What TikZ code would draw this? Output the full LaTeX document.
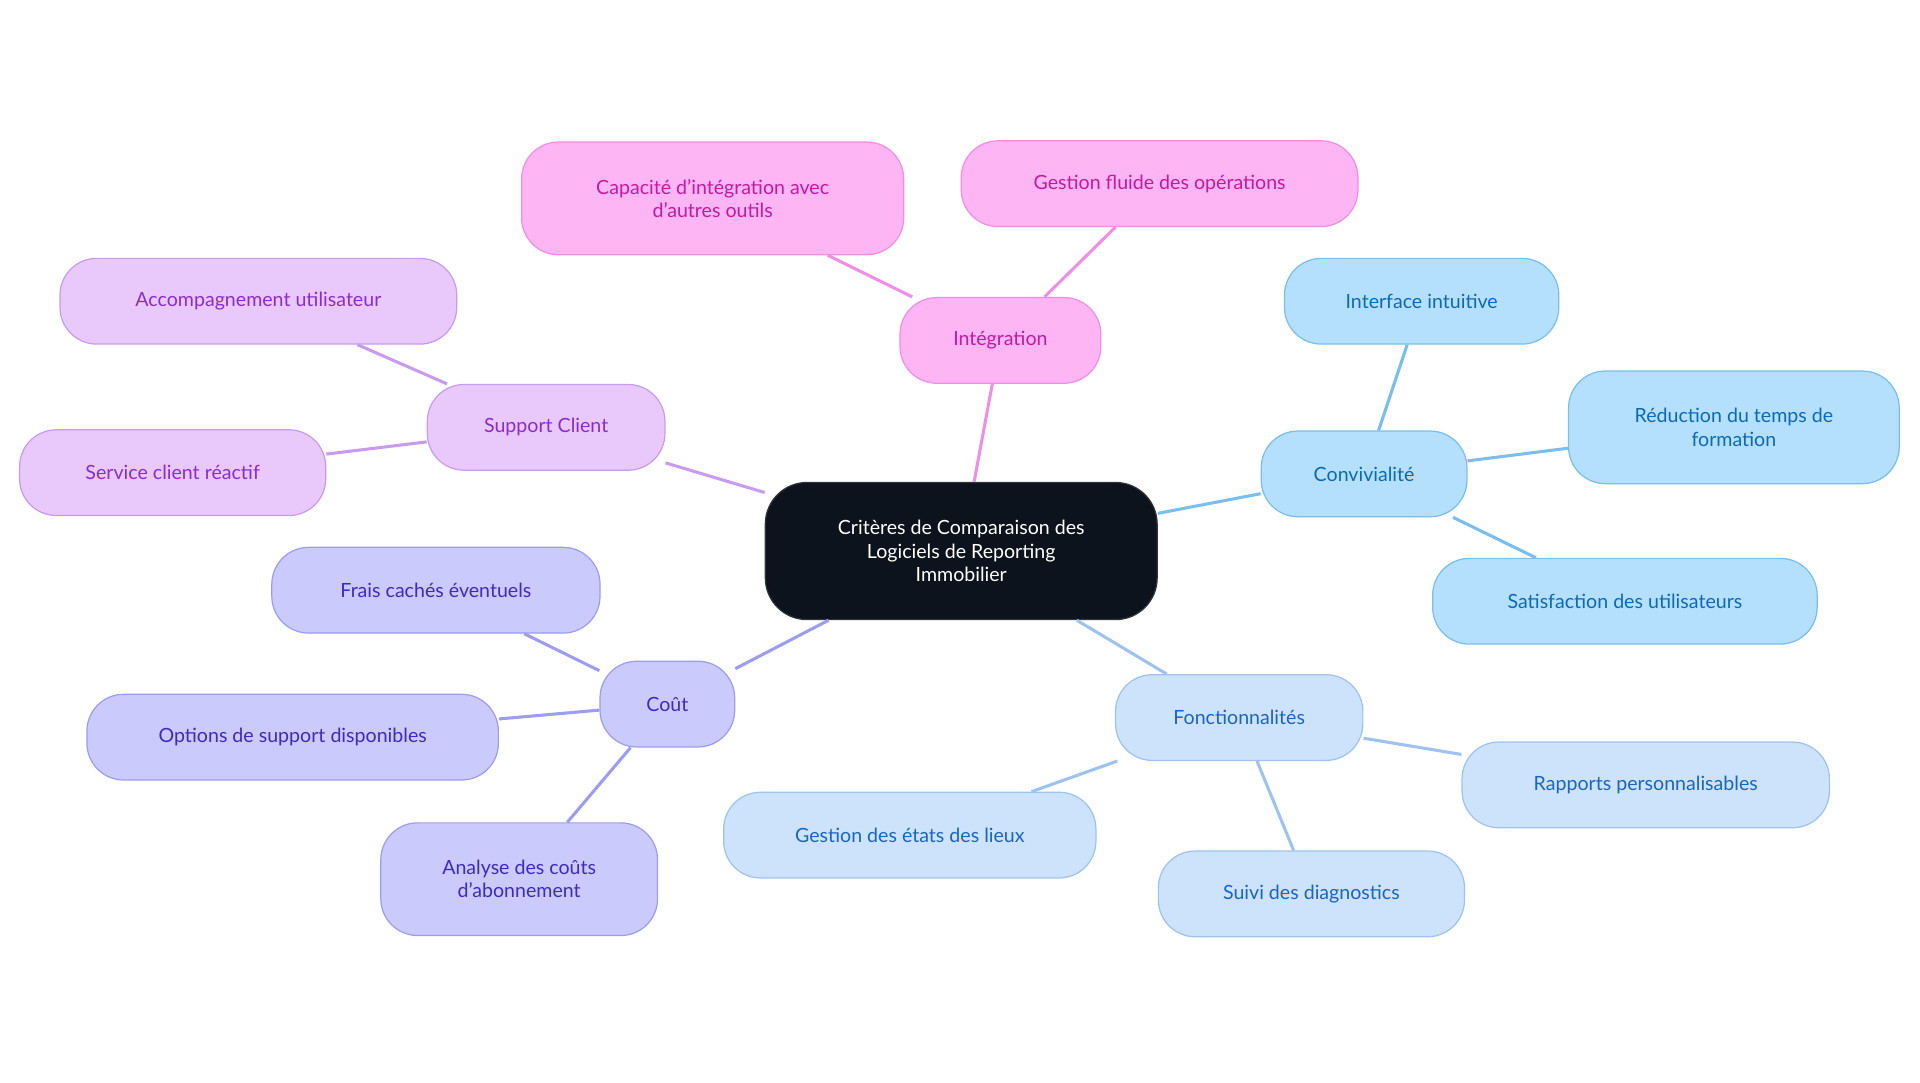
\documentclass[tikz,border=0pt]{standalone}
\usepackage{fontspec}
\setmainfont{Lato}
\usetikzlibrary{positioning}
\definecolor{rootfill}{HTML}{0C131D}
\definecolor{pinkfill}{HTML}{FDB5F4}\definecolor{pinkline}{HTML}{F08DE5}\definecolor{pinktext}{HTML}{C21AA0}
\definecolor{lilafill}{HTML}{E9C9FB}\definecolor{lilaline}{HTML}{C99BF0}\definecolor{lilatext}{HTML}{8B2CD0}
\definecolor{violfill}{HTML}{CACAFD}\definecolor{violline}{HTML}{9D9DF0}\definecolor{violtext}{HTML}{3A2DBF}
\definecolor{skyfill}{HTML}{B5E0FD}\definecolor{skyline}{HTML}{79BEEC}\definecolor{skytext}{HTML}{0B6AB8}
\definecolor{bluefill}{HTML}{CDE2FB}\definecolor{blueline}{HTML}{9DC3EE}\definecolor{bluetext}{HTML}{1A66C0}
\tikzset{%
	box/.style     = {draw, rectangle, rounded corners=30pt, minimum height=70pt, align=center, line width=1pt, font=\fontsize{16}{19}\selectfont},
	root/.style    = {box, fill=rootfill, draw=rootfill!70!gray, text=white, rounded corners=34pt},
	pink/.style    = {box, fill=pinkfill, draw=pinkline, text=pinktext},
	lila/.style    = {box, fill=lilafill, draw=lilaline, text=lilatext},
	viol/.style    = {box, fill=violfill, draw=violline, text=violtext},
	sky/.style     = {box, fill=skyfill, draw=skyline, text=skytext},
	blue/.style    = {box, fill=bluefill, draw=blueline, text=bluetext},
	link/.style    = {line width=2.5pt},
}
\begin{document}
\begin{tikzpicture}[x=1pt,y=-1pt]
	\useasboundingbox (0,0) rectangle (1568,884);
	\node[root,minimum width=320pt,minimum height=112pt] (root) at (785,450) {Critères de Comparaison des\\Logiciels de Reporting\\Immobilier};
	% Intégration
	\node[pink,minimum width=164pt] (integ) at (817,278) {Intégration};
	\node[pink,minimum width=312pt,minimum height=92pt] (capa) at (582,162) {Capacité d'intégration avec\\d'autres outils};
	\node[pink,minimum width=324pt] (fluide) at (947,150) {Gestion fluide des opérations};
	% Support Client
	\node[lila,minimum width=194pt] (supp) at (446,349) {Support Client};
	\node[lila,minimum width=324pt] (accomp) at (211,246) {Accompagnement utilisateur};
	\node[lila,minimum width=250pt] (serv) at (141,386) {Service client réactif};
	% Coût
	\node[viol,minimum width=110pt] (cout) at (545,575) {Coût};
	\node[viol,minimum width=268pt] (frais) at (356,482) {Frais cachés éventuels};
	\node[viol,minimum width=336pt] (opts) at (239,602) {Options de support disponibles};
	\node[viol,minimum width=226pt,minimum height=92pt] (abo) at (424,718) {Analyse des coûts\\d'abonnement};
	% Convivialité
	\node[sky,minimum width=168pt] (conv) at (1114,387) {Convivialité};
	\node[sky,minimum width=224pt] (inter) at (1161,246) {Interface intuitive};
	\node[sky,minimum width=270pt,minimum height=92pt] (reduc) at (1416,349) {Réduction du temps de\\formation};
	\node[sky,minimum width=314pt] (satis) at (1327,491) {Satisfaction des utilisateurs};
	% Fonctionnalités
	\node[blue,minimum width=202pt] (fonc) at (1012,586) {Fonctionnalités};
	\node[blue,minimum width=300pt] (rapp) at (1344,641) {Rapports personnalisables};
	\node[blue,minimum width=304pt] (etats) at (743,682) {Gestion des états des lieux};
	\node[blue,minimum width=250pt] (diag) at (1071,730) {Suivi des diagnostics};

	\draw[link,pinkline] (root) -- (integ);
	\draw[link,pinkline] (integ) -- (capa);
	\draw[link,pinkline] (integ) -- (fluide);
	\draw[link,lilaline] (root) -- (supp);
	\draw[link,lilaline] (supp) -- (accomp);
	\draw[link,lilaline] (supp) -- (serv);
	\draw[link,violline] (root) -- (cout);
	\draw[link,violline] (cout) -- (frais);
	\draw[link,violline] (cout) -- (opts);
	\draw[link,violline] (cout) -- (abo);
	\draw[link,skyline] (root) -- (conv);
	\draw[link,skyline] (conv) -- (inter);
	\draw[link,skyline] (conv) -- (reduc);
	\draw[link,skyline] (conv) -- (satis);
	\draw[link,blueline] (root) -- (fonc);
	\draw[link,blueline] (fonc) -- (rapp);
	\draw[link,blueline] (fonc) -- (etats);
	\draw[link,blueline] (fonc) -- (diag);
\end{tikzpicture}
\end{document}
